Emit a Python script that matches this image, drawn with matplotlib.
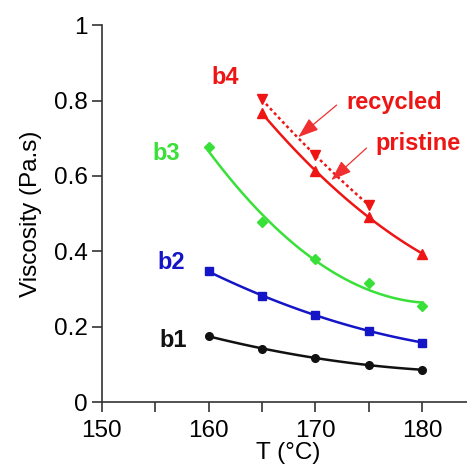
#!/usr/bin/env python
"""
	Viscosity vs temperature for blends b1-b4 (pristine and recycled b4).
"""

import numpy as np
import matplotlib
matplotlib.use('Agg')
import matplotlib.pyplot as plt

plt.rcParams['font.family'] = ['Liberation Sans', 'DejaVu Sans']

# Data
temps = [160, 165, 170, 175, 180]
b1 = [0.175, 0.142, 0.118, 0.098, 0.086]
b2 = [0.347, 0.282, 0.231, 0.190, 0.158]
b3 = [0.676, 0.477, 0.379, 0.315, 0.255]
temps_b4 = [165, 170, 175, 180]
b4_pristine = [0.767, 0.613, 0.492, 0.394]
temps_b4r = [165, 170, 175]
b4_recycled = [0.803, 0.655, 0.523]

xticks = [150, 160, 170, 180]
yticks = [0, 0.2, 0.4, 0.6, 0.8, 1]
ytick_labels = ['0', '0.2', '0.4', '0.6', '0.8', '1']

black = '#111111'
blue = '#1515c8'
green = '#38e038'
red = '#ee1515'

fig = plt.figure(figsize=(4.67, 4.66), dpi=100)
ax = fig.add_axes([0.218, 0.137, 0.80, 0.809])


def trend(ax, x, y, color, ls='-', deg=2):
	# smooth trend line through the measured points
	coef = np.polyfit(x, y, deg)
	xs = np.linspace(min(x), max(x), 100)
	ax.plot(xs, np.polyval(coef, xs), color=color, lw=1.8, ls=ls)


trend(ax, temps, b1, black)
ax.plot(temps, b1, 'o', color=black, ms=5.5)
trend(ax, temps, b2, blue)
ax.plot(temps, b2, 's', color=blue, ms=6)
trend(ax, temps, b3, green)
ax.plot(temps, b3, 'D', color=green, ms=5.5)
trend(ax, temps_b4, b4_pristine, red)
ax.plot(temps_b4, b4_pristine, '^', color=red, ms=6.5)
trend(ax, temps_b4r, b4_recycled, red, ls=(0, (1.2, 1.2)))
ax.plot(temps_b4r, b4_recycled, 'v', color=red, ms=6.5)

# Series labels
lab = dict(fontsize=17, fontweight='bold', ha='center', va='center')
ax.text(161.6, 0.86, 'b4', color=red, **lab)
ax.text(156.0, 0.66, 'b3', color=green, **lab)
ax.text(156.5, 0.371, 'b2', color=blue, **lab)
ax.text(156.7, 0.164, 'b1', color=black, **lab)

arrow = dict(arrowstyle='-|>,head_length=0.7,head_width=0.25', color='#f03030',
             lw=0.9, mutation_scale=18, shrinkA=0, shrinkB=0)
ax.annotate('', xy=(168.4, 0.703), xytext=(172.0, 0.788), arrowprops=arrow)
ax.annotate('', xy=(171.5, 0.589), xytext=(174.8, 0.674), arrowprops=arrow)
ax.text(177.4, 0.795, 'recycled', color=red, **lab)
ax.text(179.6, 0.687, 'pristine', color=red, **lab)

# Axes formatting
ax.set_xlim(150, 185)
ax.set_ylim(0, 1)
ax.set_xticks(xticks)
ax.set_xticks([155, 165, 175], minor=True)
ax.set_yticks(yticks)
ax.set_yticklabels(ytick_labels)
ax.tick_params(which='both', direction='out', length=7, width=1.2,
               labelsize=17.5, color='#333333')
ax.tick_params(axis='x', pad=6)
ax.tick_params(axis='y', pad=3)
for s in ['left', 'bottom']:
	ax.spines[s].set_linewidth(1.2)
	ax.spines[s].set_color('#333333')
ax.spines['top'].set_visible(False)
ax.spines['right'].set_visible(False)
ax.set_xlabel('T (\u00b0C)', fontsize=17.5, labelpad=0)
ax.set_ylabel('Viscosity (Pa.s)', fontsize=17.5, labelpad=9)

fig.savefig('out.png', dpi=100)
plt.close('all')
